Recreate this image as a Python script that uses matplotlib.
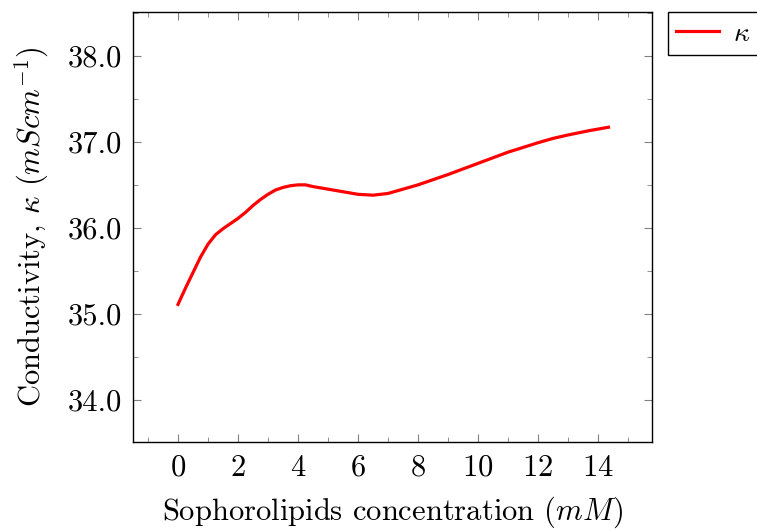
import numpy as np
import matplotlib
matplotlib.use("Agg")
import matplotlib.pyplot as plt
from matplotlib.ticker import MultipleLocator, FormatStrFormatter

# values
concentration = [0, 0.25, 0.5, 0.75, 1, 1.25, 1.5, 2, 2.25, 2.5, 2.75, 3, 3.25,
                 3.5, 3.75, 4, 4.25, 4.5, 5, 5.5, 6, 6.5, 7, 7.5, 8, 9, 10,
                 11, 12, 12.5, 13, 13.7, 14.35]
conductivity = [35.11, 35.30, 35.48, 35.66, 35.81, 35.92, 35.99, 36.11, 36.18,
                36.26, 36.33, 36.39, 36.44, 36.47, 36.49, 36.50, 36.50, 36.48,
                36.45, 36.42, 36.39, 36.38, 36.40, 36.45, 36.50, 36.62, 36.75,
                36.88, 36.99, 37.04, 37.08, 37.13, 37.17]

plt.rcParams["font.family"] = "serif"
plt.rcParams["font.serif"] = ["cmr10"]
plt.rcParams["mathtext.fontset"] = "cm"
plt.rcParams["axes.formatter.use_mathtext"] = True

fig = plt.figure(figsize=(7.57, 5.31), dpi=100)
ax = fig.add_axes([133 / 757, 1 - 442 / 531, (652 - 133) / 757, (442 - 12) / 531])

ax.plot(concentration, conductivity, color="red", lw=2.3, label=r"$\kappa$",
        solid_joinstyle="round")

ax.set_xlim(-1.5, 15.8)
ax.set_ylim(33.51, 38.51)
ax.xaxis.set_major_locator(MultipleLocator(2))
ax.xaxis.set_minor_locator(MultipleLocator(1))
ax.yaxis.set_major_locator(MultipleLocator(1))
ax.yaxis.set_minor_locator(MultipleLocator(0.5))
ax.yaxis.set_major_formatter(FormatStrFormatter("%.1f"))

ax.tick_params(which="both", direction="in", top=True, right=True,
               color="#808080", labelsize=22)
ax.tick_params(which="major", length=6, width=0.8)
ax.tick_params(which="minor", length=3.5, width=0.6)
ax.tick_params(axis="x", pad=9)
ax.tick_params(axis="y", pad=8)
for s in ax.spines.values():
    s.set_linewidth(1.0)
    s.set_color("black")

ax.set_xlabel(r"Sophorolipids concentration $(mM)$", fontsize=22, labelpad=9)
ax.set_ylabel(r"Conductivity, $\kappa$ $(mScm^{-1})$", fontsize=22, labelpad=12)

leg = ax.legend(loc="upper left", bbox_to_anchor=(1.03, 1.0), fontsize=20,
                fancybox=False, framealpha=1, edgecolor="black",
                borderaxespad=0, handlelength=1.55, handletextpad=0.5,
                borderpad=0.3)
leg.get_frame().set_linewidth(1.0)

fig.savefig("out.png", dpi=100)
